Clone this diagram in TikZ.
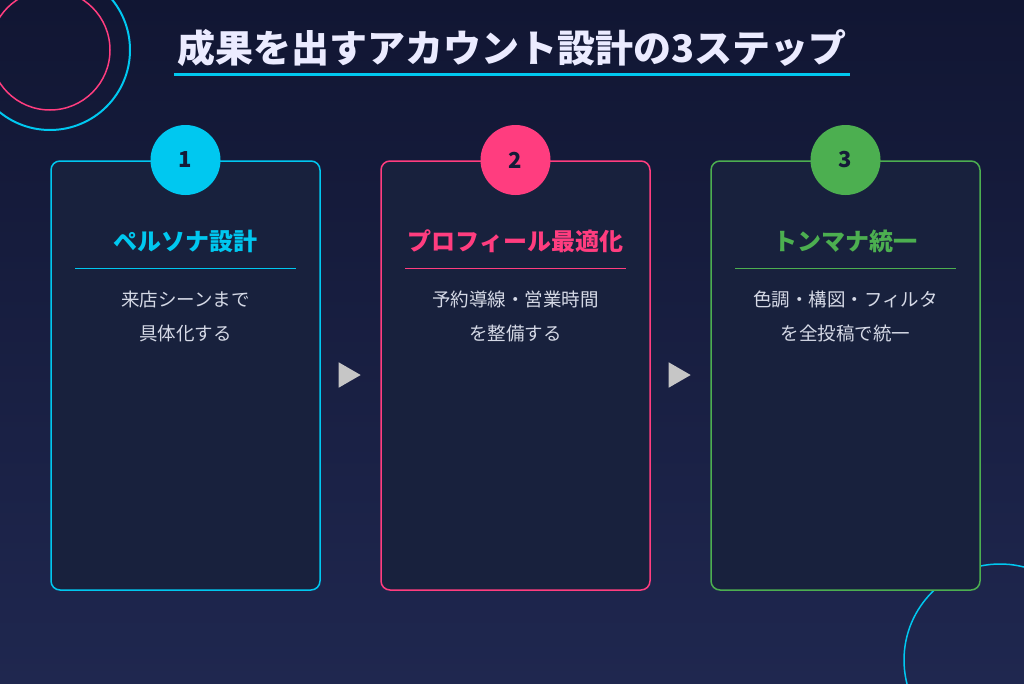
\documentclass[tikz,border=0pt]{standalone}
\usepackage{fontspec}
\newfontfamily\cjk{Noto Sans CJK JP}
\usetikzlibrary{shapes.geometric}
\definecolor{bgtop}{HTML}{111633}
\definecolor{bgbot}{HTML}{1F274F}
\definecolor{cardfill}{HTML}{18213D}
\definecolor{ccyan}{HTML}{00C8F0}
\definecolor{cpink}{HTML}{FF3D7F}
\definecolor{cgreen}{HTML}{4CAF50}
\definecolor{navy}{HTML}{151B38}
\definecolor{bodytxt}{HTML}{D5D9E6}
\tikzset{
 card/.style={draw=#1, line width=1.5pt, fill=cardfill, rounded corners=9pt, minimum width=269pt, minimum height=429pt, inner sep=0pt},
 badge/.style={circle, fill=#1, minimum size=70pt, inner sep=0pt, font=\cjk\bfseries\fontsize{22}{22}\selectfont, text=navy},
 ctitle/.style={font=\cjk\bfseries\fontsize{24}{24}\selectfont, text=#1},
 body/.style={font=\cjk\fontsize{18.5}{34}\selectfont, text=bodytxt, align=center},
 arr/.style={isosceles triangle, fill=gray!45, minimum width=22pt, minimum height=22pt, inner sep=0pt, isosceles triangle apex angle=60}
}
\begin{document}
\begin{tikzpicture}[x=1pt,y=-1pt]
\useasboundingbox (0,0) rectangle (1024,683);
\shade[top color=bgtop, bottom color=bgbot] (0,0) rectangle (1024,683);
\begin{scope}
\clip (0,0) rectangle (1024,683);
\draw[ccyan, line width=2pt] (50,50) circle[radius=80];
\draw[cpink, line width=1.5pt] (50,50) circle[radius=60];
\draw[ccyan, line width=1.5pt] (1000,660) circle[radius=96];
\end{scope}
\node[font=\cjk\bfseries\fontsize{38}{38}\selectfont, text=white!92!blue] (title) at (512,48) {成果を出すアカウント設計の3ステップ};
\draw[ccyan, line width=3pt] (174,74) -- (850,74);
\foreach \i/\cx/\col/\t/\b in {1/185.5/ccyan/ペルソナ設計/来店シーンまで\\具体化する, 2/515.5/cpink/プロフィール最適化/予約導線・営業時間\\を整備する, 3/845.5/cgreen/トンマナ統一/色調・構図・フィルタ\\を全投稿で統一}{
  \node[card=\col] (card\i) at (\cx,375.5) {};
  \node[badge=\col] (b\i) at (\cx,160) {\i};
  \node[ctitle=\col] (t\i) at (\cx,241) {\t};
  \draw[\col, line width=0.8pt] (\cx-110.5,268) -- (\cx+110.5,268);
  \node[body, anchor=north] (x\i) at (\cx,287) {\b};
}
\node[arr] (a1) at (346,375) {};
\node[arr] (a2) at (676,375) {};
\end{tikzpicture}
\end{document}
